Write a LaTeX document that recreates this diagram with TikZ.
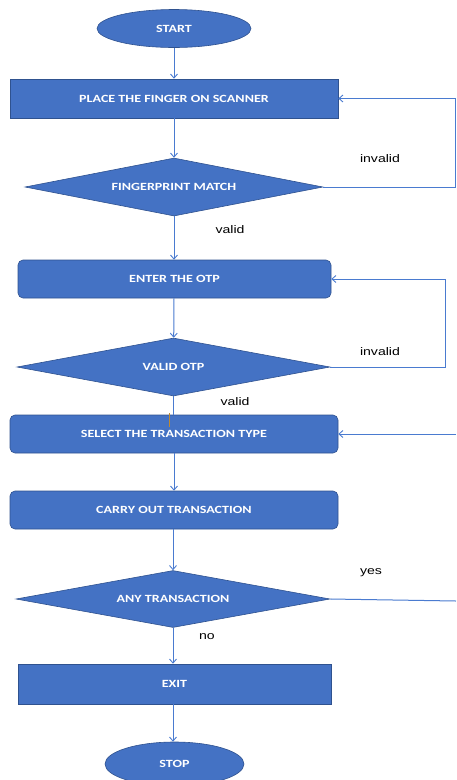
\documentclass[tikz,border=0pt]{standalone}
\usepackage{graphicx}
\usepackage{fontspec}
\setmainfont{Carlito}
\newfontfamily\lblfont{Liberation Sans}
\usetikzlibrary{shapes.geometric,arrows.meta}
\definecolor{boxblue}{HTML}{4472C4}
\definecolor{edgeblue}{HTML}{2F528F}
\definecolor{lineblue}{HTML}{4A7BD0}
\definecolor{ticko}{HTML}{C08A2E}
\newcommand{\hs}[1]{\scalebox{1.28}[1]{#1}}
\tikzset{
  base/.style={fill=boxblue, draw=edgeblue, line width=0.6pt, text=white, font=\fontsize{11}{13}\selectfont\bfseries, inner sep=0pt},
  sharpbox/.style={base, rectangle},
  roundbox/.style={base, rectangle, rounded corners=5pt},
  term/.style={base, ellipse},
  decision/.style={base, diamond, aspect=5},
  conn/.style={lineblue, line width=1pt},
  arr/.style={conn, -{Straight Barb[length=4pt,width=7pt,line width=0.9pt]}},
  lbl/.style={font=\lblfont\fontsize{11}{13}\selectfont, text=black, inner sep=0pt}
}
\begin{document}
\begin{tikzpicture}[x=1pt,y=-1pt]
\useasboundingbox (0,0) rectangle (456,780);
\node[term, minimum width=154pt, minimum height=38pt] (start) at (174,28.5) {\hs{START}};
\node[sharpbox, minimum width=328pt, minimum height=39pt] (place) at (174,98.5) {\hs{PLACE THE FINGER ON SCANNER}};
\node[decision, minimum width=298pt, minimum height=58pt] (fp) at (174,187) {\hs{FINGERPRINT MATCH}};
\node[roundbox, minimum width=313pt, minimum height=38pt] (enter) at (174.5,279) {\hs{ENTER THE OTP}};
\node[decision, minimum width=313pt, minimum height=58pt] (votp) at (173.5,367) {\hs{VALID OTP}};
\node[roundbox, minimum width=328pt, minimum height=38pt] (select) at (174,434) {\hs{SELECT THE TRANSACTION TYPE}};
\node[roundbox, minimum width=328pt, minimum height=38pt] (carry) at (174,510) {\hs{CARRY OUT TRANSACTION}};
\node[decision, minimum width=314pt, minimum height=57pt] (any) at (173,599) {\hs{ANY TRANSACTION}};
\node[sharpbox, minimum width=313pt, minimum height=40pt] (exit) at (174.5,684) {\hs{EXIT}};
\node[term, minimum width=139pt, minimum height=44pt] (stop) at (174.5,764) {\hs{STOP}};

\coordinate (fpr) at (455,187);
\coordinate (otpr) at (445,367);
\coordinate (selin) at (456,434);
\coordinate (yesout) at (456,601);

\draw[arr] (start) -- (place);
\draw[arr] (place) -- (fp);
\draw[arr] (fp) -- (enter.north -| fp.south);
\draw[arr] (enter.south -| fp.south) -- (votp);
\draw[conn] (votp.south) -- (select.north -| votp.south);
\draw[arr] (carry.south -| any.north) -- (any);
\draw[arr] (select) -- (carry);
\draw[arr] (any) -- (exit.north -| any.south);
\draw[arr] (exit.south -| any.south) -- (stop.north -| any.south);
\draw[arr] (fp.east) -- (fpr) |- (place.east);
\draw[arr] (votp.east) -- (otpr) |- (enter.east);
\draw[arr] (selin) -- (select.east);
\draw[conn] (any.east) -- (yesout);
\draw[ticko, line width=1pt] (169,413) -- (169,427);

\node[lbl] (l1) at (380,159) {\hs{invalid}};
\node[lbl] (l2) at (230,230) {\hs{valid}};
\node[lbl] (l3) at (380,352) {\hs{invalid}};
\node[lbl] (l4) at (235,402) {\hs{valid}};
\node[lbl] (l5) at (371,573) {\hs{yes}};
\node[lbl] (l6) at (207,637) {\hs{no}};
\end{tikzpicture}
\end{document}
